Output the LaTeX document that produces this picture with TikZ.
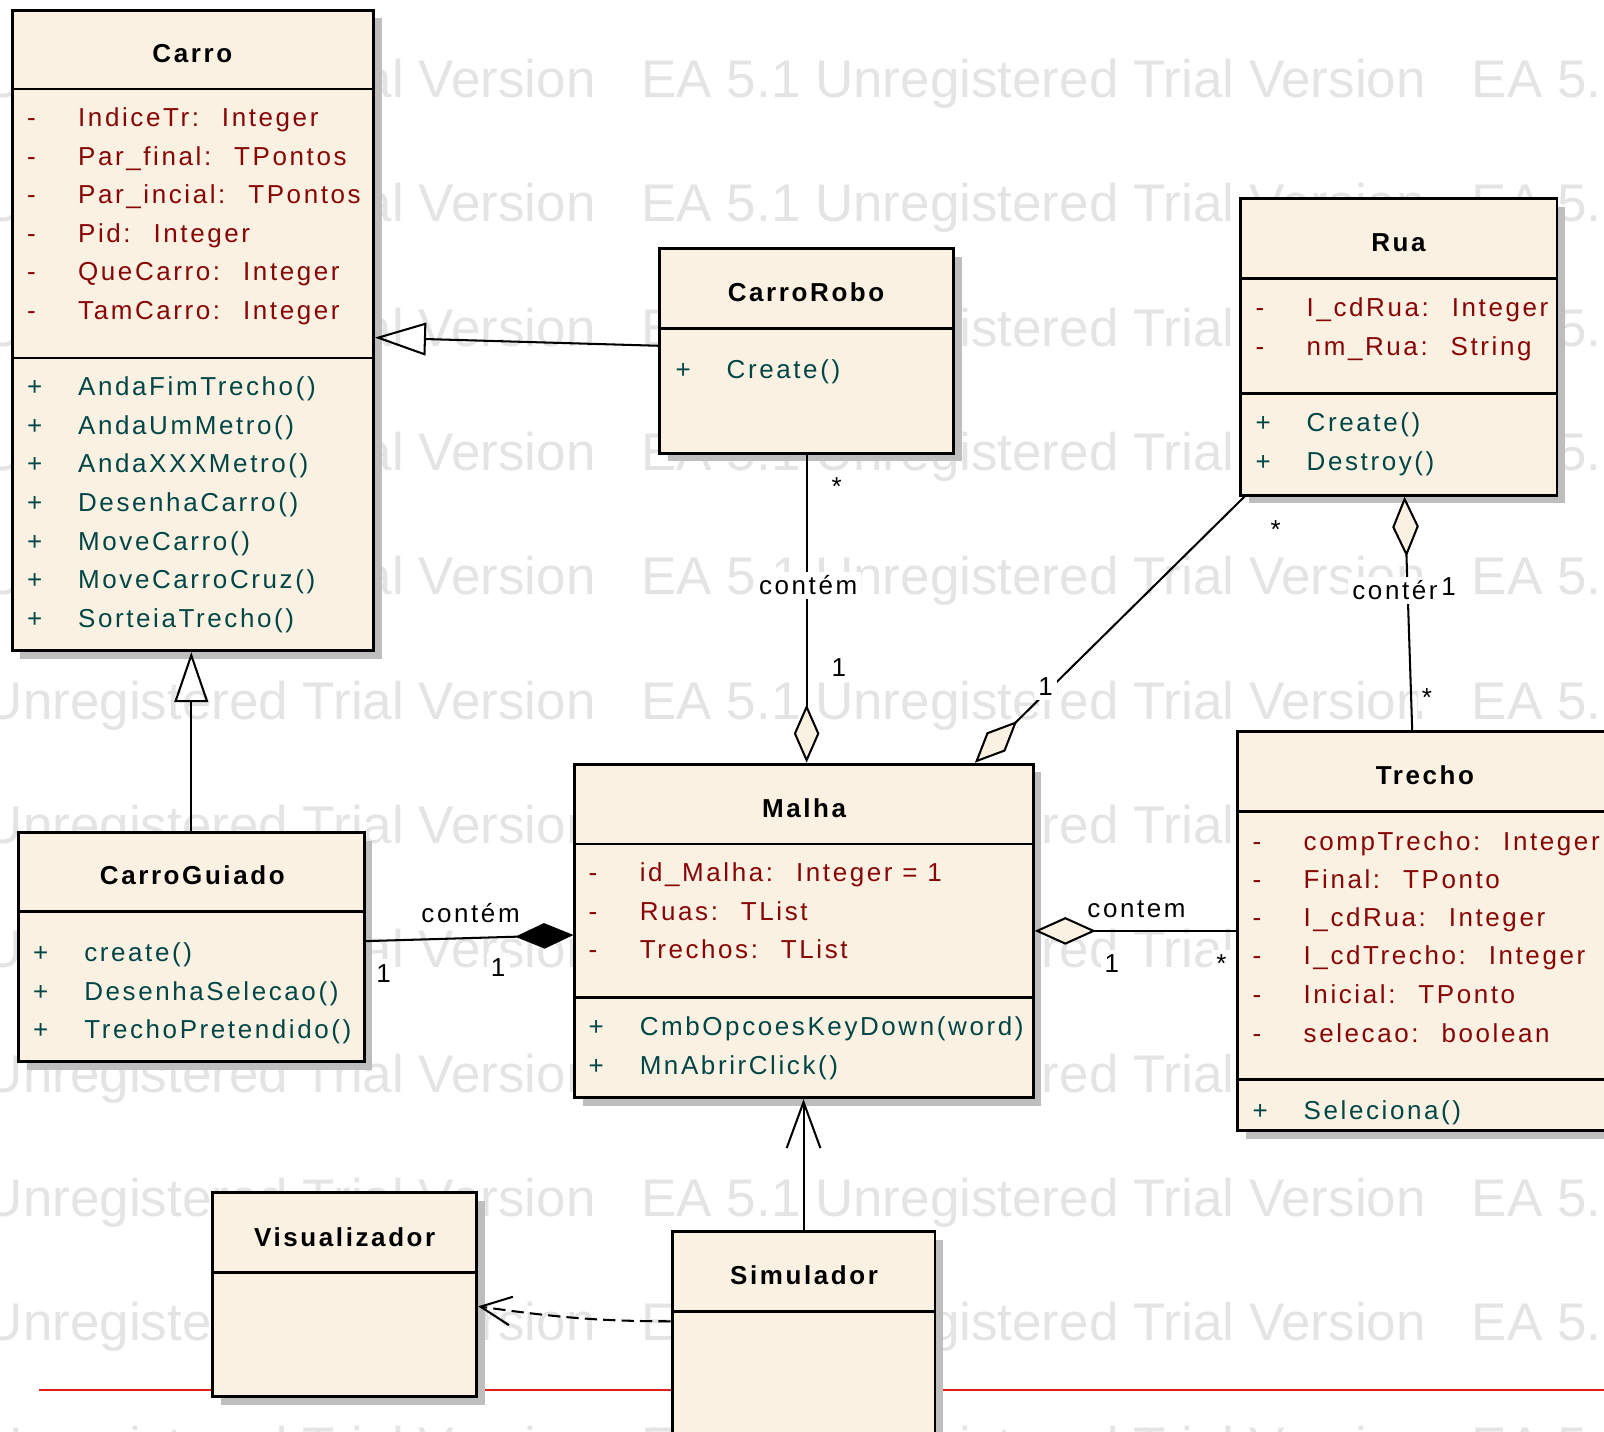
\documentclass[tikz,border=0pt]{standalone}
\usepackage{fontspec}
\setmainfont{Liberation Sans}
\newfontfamily\umlfont{Liberation Sans}[LetterSpace=10]
\usetikzlibrary{arrows.meta,shadows,fit}

\definecolor{classfill}{RGB}{251,241,227}
\definecolor{attrcol}{RGB}{135,5,5}
\definecolor{opcol}{RGB}{0,70,70}
\definecolor{shadowcol}{RGB}{190,190,190}
\definecolor{wmcol}{RGB}{228,228,228}
\definecolor{pagered}{RGB}{225,30,30}

% visibility column of a class member
\newcommand{\vis}[1]{\makebox[25pt][l]{#1}}

\tikzset{
  classbox/.style={draw, line width=1.4pt, fill=classfill, inner sep=0pt,
    drop shadow={shadow xshift=4pt, shadow yshift=-4pt, fill=shadowcol, opacity=1}},
  compline/.style={line width=1.4pt},
  classname/.style={font=\umlfont\fontsize{12.7}{14}\selectfont\bfseries,
    text height=9.1pt, text depth=0pt, inner sep=0pt},
  attr/.style={font=\umlfont\fontsize{12.7}{14}\selectfont, text=attrcol, anchor=west,
    text height=9.1pt, text depth=0pt, inner sep=0pt},
  oper/.style={attr, text=opcol},
  assoc/.style={line width=1pt},
  lbl/.style={font=\umlfont\fontsize{12.7}{14}\selectfont, fill=white, inner sep=2pt,
    text height=9.1pt, text depth=0pt},
  wmark/.style={font=\fontsize{25.9}{30}\selectfont, text=wmcol, anchor=west,
    inner sep=0pt, text height=18.5pt, text depth=0pt},
}

\begin{document}
\begin{tikzpicture}[x=0.5pt,y=-0.5pt]
  \useasboundingbox (0,0) rectangle (1568,1399);
  \clip (0,0) rectangle (1568,1399);

  % watermark rows
  \foreach \r in {0,...,11}
    \node[wmark] (wm\r) at (-185,77+121.5*\r)
      {EA 5.1 Unregistered Trial Version\hspace{22.5pt}EA 5.1 Unregistered Trial Version\hspace{22.5pt}EA 5.1 Unregistered Trial Version};

  \draw[pagered, line width=0.8pt] (38,1359) -- (1568,1359);

  % Carro
  \node[classbox, fit={(12,10) (365,636)}] (carro) {};
  \draw[compline] (carro.west |- 0,87) -- (carro.east |- 0,87);
  \draw[compline] (carro.west |- 0,350) -- (carro.east |- 0,350);
  \node[classname] (carro-name) at (188,52) {Carro};
  \node[attr] (carro-a1) at (26,115) {\vis{-}IndiceTr:~ Integer};
  \node[attr] (carro-a2) at (26,153) {\vis{-}Par\_final:~ TPontos};
  \node[attr] (carro-a3) at (26,190) {\vis{-}Par\_incial:~ TPontos};
  \node[attr] (carro-a4) at (26,228) {\vis{-}Pid:~ Integer};
  \node[attr] (carro-a5) at (26,265) {\vis{-}QueCarro:~ Integer};
  \node[attr] (carro-a6) at (26,303) {\vis{-}TamCarro:~ Integer};
  \node[oper] (carro-o1) at (26,378) {\vis{+}AndaFimTrecho()};
  \node[oper] (carro-o2) at (26,416) {\vis{+}AndaUmMetro()};
  \node[oper] (carro-o3) at (26,453) {\vis{+}AndaXXXMetro()};
  \node[oper] (carro-o4) at (26,491) {\vis{+}DesenhaCarro()};
  \node[oper] (carro-o5) at (26,529) {\vis{+}MoveCarro()};
  \node[oper] (carro-o6) at (26,566) {\vis{+}MoveCarroCruz()};
  \node[oper] (carro-o7) at (26,604) {\vis{+}SorteiaTrecho()};

  % CarroRobo
  \node[classbox, fit={(645,243) (932,443)}] (carrorobo) {};
  \draw[compline] (carrorobo.west |- 0,321) -- (carrorobo.east |- 0,321);
  \node[classname] (carrorobo-name) at (788,286) {CarroRobo};
  \node[oper] (carrorobo-o1) at (660,361) {\vis{+}Create()};

  % Rua
  \node[classbox, fit={(1213,194) (1522,484)}] (rua) {};
  \draw[compline] (rua.west |- 0,272) -- (rua.east |- 0,272);
  \draw[compline] (rua.west |- 0,385) -- (rua.east |- 0,385);
  \node[classname] (rua-name) at (1367,237) {Rua};
  \node[attr] (rua-a1) at (1227,300) {\vis{-}I\_cdRua:~ Integer};
  \node[attr] (rua-a2) at (1227,338) {\vis{-}nm\_Rua:~ String};
  \node[oper] (rua-o1) at (1227,413) {\vis{+}Create()};
  \node[oper] (rua-o2) at (1227,451) {\vis{+}Destroy()};

  % Malha
  \node[classbox, fit={(562,747) (1010,1073)}] (malha) {};
  \draw[compline] (malha.west |- 0,825) -- (malha.east |- 0,825);
  \draw[compline] (malha.west |- 0,975) -- (malha.east |- 0,975);
  \node[classname] (malha-name) at (786,790) {Malha};
  \node[attr] (malha-a1) at (575,853) {\vis{-}id\_Malha:~ Integer = 1};
  \node[attr] (malha-a2) at (575,891) {\vis{-}Ruas:~ TList};
  \node[attr] (malha-a3) at (575,928) {\vis{-}Trechos:~ TList};
  \node[oper] (malha-o1) at (575,1003) {\vis{+}CmbOpcoesKeyDown(word)};
  \node[oper] (malha-o2) at (575,1041) {\vis{+}MnAbrirClick()};

  % Trecho
  \node[classbox, fit={(1210,715) (1577,1105)}] (trecho) {};
  \draw[compline] (trecho.west |- 0,793) -- (trecho.east |- 0,793);
  \draw[compline] (trecho.west |- 0,1055) -- (trecho.east |- 0,1055);
  \node[classname] (trecho-name) at (1393,758) {Trecho};
  \node[attr] (trecho-a1) at (1224,822) {\vis{-}compTrecho:~ Integer};
  \node[attr] (trecho-a2) at (1224,859) {\vis{-}Final:~ TPonto};
  \node[attr] (trecho-a3) at (1224,897) {\vis{-}I\_cdRua:~ Integer};
  \node[attr] (trecho-a4) at (1224,934) {\vis{-}I\_cdTrecho:~ Integer};
  \node[attr] (trecho-a5) at (1224,972) {\vis{-}Inicial:~ TPonto};
  \node[attr] (trecho-a6) at (1224,1010) {\vis{-}selecao:~ boolean};
  \node[oper] (trecho-o1) at (1224,1085) {\vis{+}Seleciona()};

  % CarroGuiado
  \node[classbox, fit={(18,814) (356,1038)}] (carroguiado) {};
  \draw[compline] (carroguiado.west |- 0,891) -- (carroguiado.east |- 0,891);
  \node[classname] (carroguiado-name) at (188,856) {CarroGuiado};
  \node[oper] (carroguiado-o1) at (32,931) {\vis{+}create()};
  \node[oper] (carroguiado-o2) at (32,969) {\vis{+}DesenhaSelecao()};
  \node[oper] (carroguiado-o3) at (32,1006) {\vis{+}TrechoPretendido()};

  % Visualizador and Simulador
  \node[classbox, fit={(208,1166) (466,1365)}] (visualizador) {};
  \draw[compline] (visualizador.west |- 0,1244) -- (visualizador.east |- 0,1244);
  \node[classname] (visualizador-name) at (337,1209) {Visualizador};
  \node[classbox, fit={(657,1204) (914,1430)}] (simulador) {};
  \draw[compline] (simulador.west |- 0,1282) -- (simulador.east |- 0,1282);
  \node[classname] (simulador-name) at (786,1247) {Simulador};

  % generalizations
  \draw[assoc, -{Triangle[open, length=25pt, width=16pt]}]
    ([yshift=2.5pt]carrorobo.west) -- ([yshift=-3.5pt]carro.east);
  \draw[assoc, -{Triangle[open, length=24.5pt, width=16.5pt]}]
    (carroguiado.north) -- (carroguiado.north |- carro.south);

  % aggregations and composition
  \draw[assoc, -{Diamond[length=28.5pt, width=12.5pt, fill=classfill]}]
    (carrorobo.south) -- (carrorobo.south |- malha.north);
  \draw[assoc, -{Diamond[length=29pt, width=13pt, fill=classfill]}]
    ([xshift=2.5pt]rua.south west) -- ([xshift=83.5pt]malha.north);
  \draw[assoc, -{Diamond[length=29.5pt, width=13pt, fill=classfill]}]
    ([xshift=-6.5pt]trecho.north) -- ([xshift=2.75pt]rua.south);
  \draw[assoc, -{Diamond[length=28.5pt, width=12.5pt]}]
    ([yshift=3pt]carroguiado.east) -- ([yshift=-2pt]malha.west);
  \draw[assoc, -{Diamond[length=30pt, width=13.5pt, fill=classfill]}]
    (trecho.west) -- (malha.east);

  % navigation and dependency
  \draw[assoc, -{Straight Barb[length=22.5pt, width=16.5pt]}]
    (simulador.north) -- (simulador.north |- malha.south);
  \draw[assoc, dash pattern=on 6pt off 3pt, -{Straight Barb[length=15pt, width=14pt]}]
    ([yshift=-44.5pt]simulador.north west) to[out=180, in=-8] ([yshift=-5.75pt]visualizador.east);

  % role names and multiplicities
  \node[lbl] (robo-role) at (790,572) {contém};
  \node[lbl] (robo-many) at (818,475) {*};
  \node[lbl] (robo-one) at (820,652) {1};
  \node[lbl] (rua-many) at (1247,517) {*};
  \node[lbl] (rua-one) at (1022,671) {1};
  \node[lbl] (trecho-role) at (1370,577) {contém};
  \node[lbl] (trecho-one) at (1416,573) {1};
  \node[lbl] (trecho-many) at (1395,682) {*};
  \node[lbl] (guiado-role) at (460,893) {contém};
  \node[lbl] (guiado-one) at (375,951) {1};
  \node[lbl] (guiado-malha-one) at (487,945) {1};
  \node[lbl] (malha-role) at (1111,888) {contem};
  \node[lbl] (malha-one) at (1087,942) {1};
  \node[lbl] (malha-many) at (1194,942) {*};
\end{tikzpicture}
\end{document}
